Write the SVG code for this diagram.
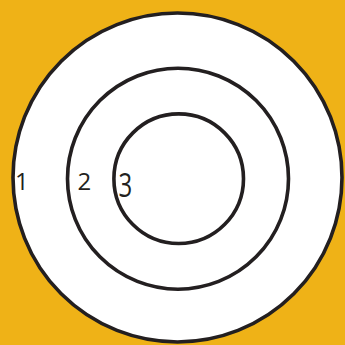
<svg xmlns="http://www.w3.org/2000/svg" width="345" height="345" viewBox="0 0 345 345">
<style>
.ring{fill:none;stroke:#231f20;stroke-width:3.6}
.lbl{font-family:"Open Sans","Liberation Sans",sans-serif;font-size:24px;fill:#231f20}
</style>
<rect x="0" y="0" width="345" height="345" fill="#EFB217"/>
<g id="ring1"><circle cx="177.5" cy="177.5" r="164.5" class="ring" style="fill:#ffffff"/><text class="lbl" x="15" y="190">1</text></g>
<g id="ring2"><circle cx="178" cy="178.7" r="110.5" class="ring"/><text class="lbl" x="77.5" y="190">2</text></g>
<g id="ring3"><circle cx="178.7" cy="178.7" r="64.8" class="ring"/><text class="lbl" x="118.5" y="190" transform="translate(0,172) scale(1,1.38) translate(0,-172)">3</text></g>
<g id="connectors"></g>
</svg>
